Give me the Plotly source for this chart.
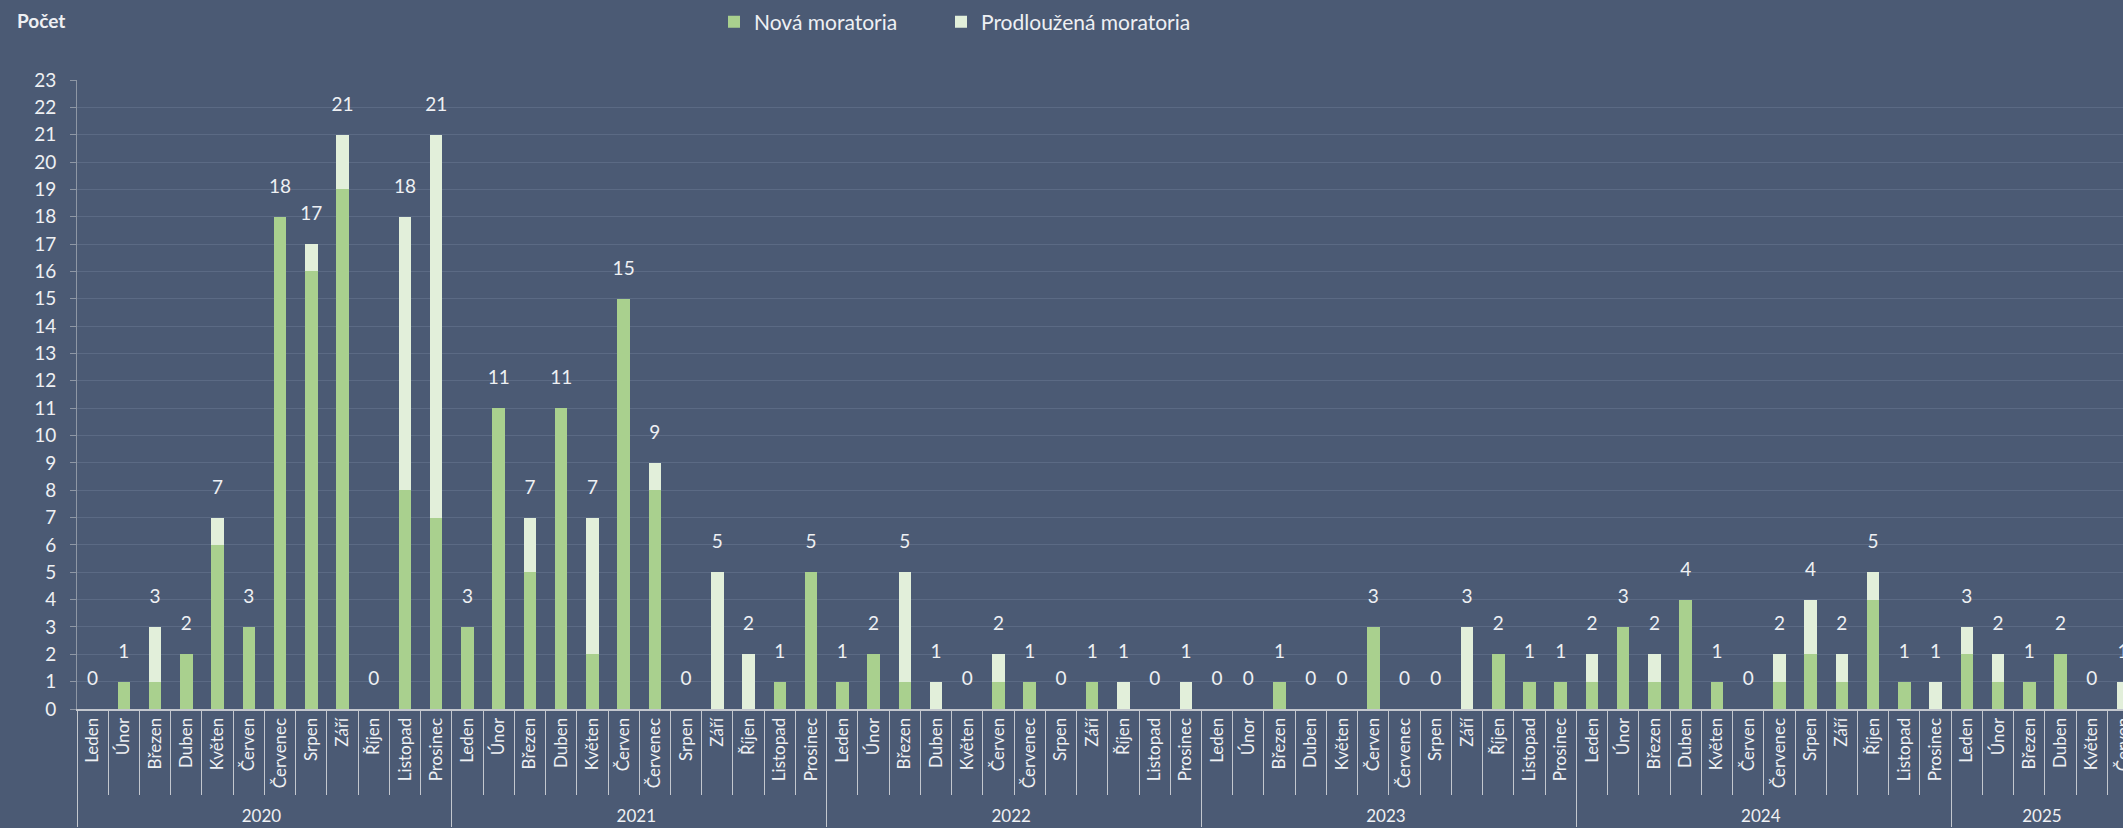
import plotly.graph_objects as go

# ---------------- data ----------------
year_list = ["2020", "2021", "2022", "2023", "2024", "2025"]
month_list = ["Leden", "Únor", "Březen", "Duben", "Květen", "Červen",
              "Červenec", "Srpen", "Září", "Říjen", "Listopad", "Prosinec"]
months_per_year = [12, 12, 12, 12, 12, 6]

nova_2020 = [0, 1, 1, 2, 6, 3, 18, 16, 19, 0, 8, 7]
prodl_2020 = [0, 0, 2, 0, 1, 0, 0, 1, 2, 0, 10, 14]
nova_2021 = [3, 11, 5, 11, 2, 15, 8, 0, 0, 0, 1, 5]
prodl_2021 = [0, 0, 2, 0, 5, 0, 1, 0, 5, 2, 0, 0]
nova_2022 = [1, 2, 1, 0, 0, 1, 1, 0, 1, 0, 0, 0]
prodl_2022 = [0, 0, 4, 1, 0, 1, 0, 0, 0, 1, 0, 1]
nova_2023 = [0, 0, 1, 0, 0, 3, 0, 0, 0, 2, 1, 1]
prodl_2023 = [0, 0, 0, 0, 0, 0, 0, 0, 3, 0, 0, 0]
nova_2024 = [1, 3, 1, 4, 1, 0, 1, 2, 1, 4, 1, 0]
prodl_2024 = [1, 0, 1, 0, 0, 0, 1, 2, 1, 1, 0, 1]
nova_2025 = [2, 1, 1, 2, 0, 0]
prodl_2025 = [1, 1, 0, 0, 0, 1]

y_ticks = list(range(0, 24))

# ---------------- build ----------------
nova = nova_2020 + nova_2021 + nova_2022 + nova_2023 + nova_2024 + nova_2025
prodl = prodl_2020 + prodl_2021 + prodl_2022 + prodl_2023 + prodl_2024 + prodl_2025
outer, inner = [], []
for y, n in zip(year_list, months_per_year):
    outer += [y] * n
    inner += month_list[:n]
totals = [a + b for a, b in zip(nova, prodl)]

BG = "#4b5a74"
GREEN = "#a9d08e"
LIGHT = "#e2efda"
TXT = "#eef0f3"
GRID = "#5b6a84"
FONT = "Lato"

fig = go.Figure()
fig.add_trace(go.Bar(x=[outer, inner], y=nova, name="Nová moratoria",
                     marker=dict(color=GREEN, line=dict(width=0)), legend="legend"))
fig.add_trace(go.Bar(x=[outer, inner], y=prodl, name="Prodloužená moratoria",
                     marker=dict(color=LIGHT, line=dict(width=0)), legend="legend2"))
fig.add_trace(go.Scatter(x=[outer, inner], y=totals, mode="markers+text",
                         text=[str(t) for t in totals], textposition="top center",
                         textfont=dict(family=FONT, size=19, color=TXT),
                         marker=dict(size=29, opacity=0), showlegend=False,
                         hoverinfo="skip", cliponaxis=False))

leg_common = dict(orientation="h", yanchor="middle", y=1.092, xanchor="left",
                  font=dict(family=FONT, size=21, color=TXT),
                  bgcolor="rgba(0,0,0,0)", itemwidth=30, borderwidth=0)

fig.update_layout(
    width=2123, height=828, autosize=False,
    barmode="stack",
    bargap=0.6,
    paper_bgcolor=BG,
    plot_bgcolor=BG,
    margin=dict(l=77, r=0, t=80, b=119, pad=0),
    font=dict(family=FONT, color=TXT),
    showlegend=True,
    legend=dict(x=(714 - 77) / 2046, **leg_common),
    legend2=dict(x=(941 - 77) / 2046, **leg_common),
    annotations=[dict(text="<b>Počet</b>", xref="paper", yref="paper",
                      x=-0.0303, y=1.095, xanchor="left", yanchor="middle",
                      showarrow=False, font=dict(family=FONT, size=19, color=TXT))],
)

fig.update_yaxes(range=[0, 23], tickvals=y_ticks, ticktext=[str(v) for v in y_ticks],
                 showgrid=True, gridcolor=GRID, gridwidth=1,
                 showline=True, linecolor="#8e97a5", linewidth=1,
                 ticks="outside", ticklen=6, tickcolor="#8e97a5",
                 ticklabelstandoff=10,
                 tickfont=dict(family=FONT, size=19, color=TXT),
                 zeroline=False, fixedrange=True)

fig.update_xaxes(type="multicategory", range=[-0.5, 65.0],
                 showline=True, linecolor="#c3c7ce", linewidth=2,
                 ticks="outside", tickson="boundaries", ticklen=84,
                 tickcolor="#c3c7ce", tickwidth=1,
                 tickangle=-90,
                 showdividers=True, dividercolor="#c3c7ce", dividerwidth=1,
                 tickfont=dict(family=FONT, size=17, color=TXT),
                 showgrid=False, fixedrange=True)

post = ("document.documentElement.style.margin='0';"
        "document.body.style.margin='0';"
        "document.body.style.overflow='hidden';"
        "document.body.style.background='" + BG + "';")

fig.write_html("out.html", post_script=post, config={"displayModeBar": False})
